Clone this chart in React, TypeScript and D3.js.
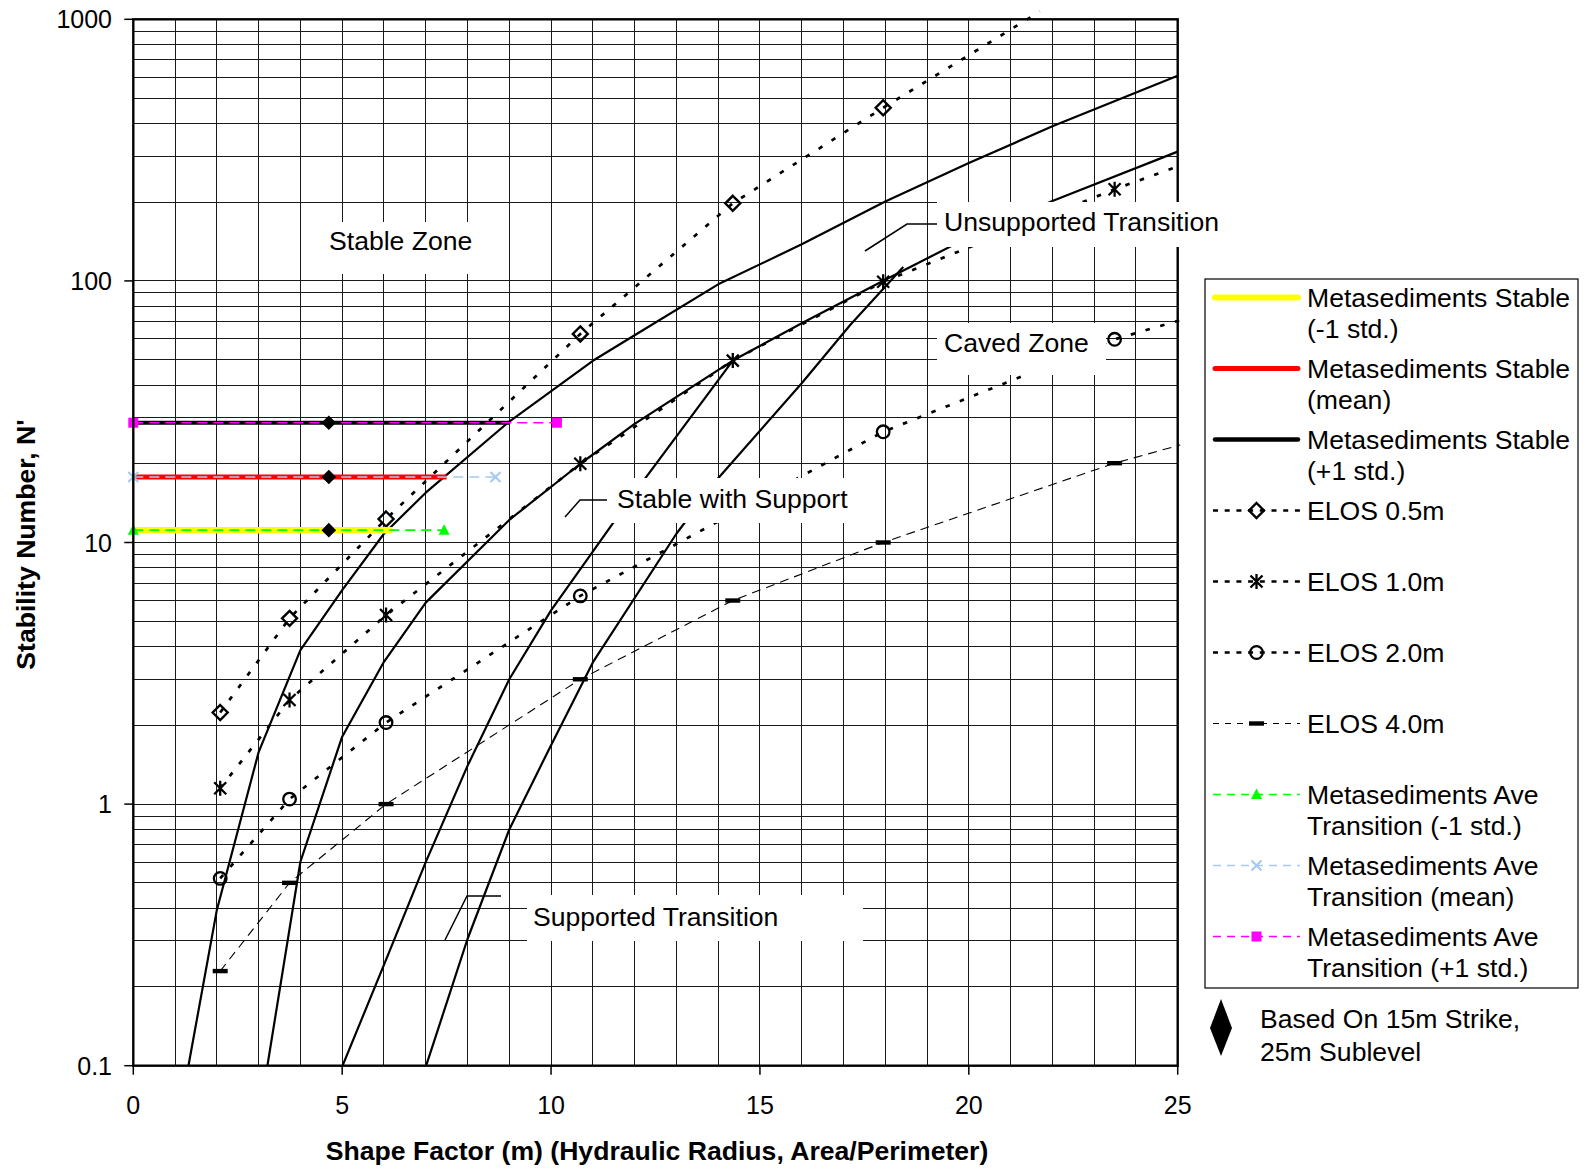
import React from 'react';
import * as d3 from 'd3';

// axis ticks
const xTicks = [0, 5, 10, 15, 20, 25];
const yTicks = [0.1, 1, 10, 100, 1000];
const yTickLabels = ['0.1', '1', '10', '100', '1000'];

// zone boundary curves (solid black lines)
const zoneAx = [1.32, 2, 3, 4, 5, 6, 7, 9, 11, 12, 14, 16, 18, 20, 22, 25];
const zoneAy = [0.1, 0.394, 1.58, 3.88, 6.58, 10.8, 15.5, 29, 49.5, 62, 97, 138, 201, 282, 390, 608];
const zoneBx = [3.21, 4, 5, 6, 7, 9, 10.7, 12, 14.35, 16, 18, 20, 22, 25];
const zoneBy = [0.1, 0.602, 1.81, 3.5, 5.89, 12.2, 20, 28.4, 49.6, 68.9, 101, 147, 202, 312];
const zoneCx = [5.01, 6, 7, 8, 9, 10, 12, 14.35];
const zoneCy = [0.1, 0.243, 0.6, 1.4, 3.0, 5.5, 15.5, 49.6];
const zoneDx = [7.01, 8, 9, 10, 11, 13, 14, 16, 17.16, 18.43];
const zoneDy = [0.1, 0.305, 0.8, 1.68, 3.48, 10.8, 17.6, 40.6, 67.8, 113];

// ELOS design lines
const elosX = [2.08, 3.74, 6.05, 10.7, 14.35, 17.95, 23.49];
const elos05 = [2.24, 5.13, 12.3, 62.7, 198, 459];
const elos10 = [1.15, 2.5, 5.28, 20, 49.6, 99.3, 224];
const elos20 = [0.52, 1.045, 2.05, 6.25, 12.9, 26.5, 59.8];
const elos40 = [0.23, 0.5, 1.0, 3.0, 6.0, 10, 20.1];
// where each ELOS line leaves the frame
const elosEndX = [21.7, 25.0, 25.21, 25.06];
const elosEndY = [1070, 274, 71.9, 23.6];

// metasediments stable / transition (-1 std, mean, +1 std)
const stableN = [11.15, 17.8, 28.7];
const stableEndX = [6.2, 7.5, 9.0];
const transitionEndX = [7.44, 8.67, 10.14];
const basedOnX = 4.68;

const legendLabels = [
  ['Metasediments Stable', '(-1 std.)'],
  ['Metasediments Stable', '(mean)'],
  ['Metasediments Stable', '(+1 std.)'],
  ['ELOS 0.5m'],
  ['ELOS 1.0m'],
  ['ELOS 2.0m'],
  ['ELOS 4.0m'],
  ['Metasediments Ave', 'Transition (-1 std.)'],
  ['Metasediments Ave', 'Transition (mean)'],
  ['Metasediments Ave', 'Transition (+1 std.)'],
];

const FONT = "Arial, 'Liberation Sans', Helvetica, sans-serif";
const stableColors = ['#FFFF00', '#FF0000', '#000000'];
const stableWidths = [6.5, 5, 4];
const transColors = ['#00FF00', '#A6CAF0', '#FF00FF'];

const zip = (xs: number[], ys: number[]) => xs.map((v, i) => [v, ys[i]] as [number, number]);

function Marker({ kind, cx, cy }: { kind: string; cx: number; cy: number }) {
  if (kind === 'diamond')
    return <path d={`M${cx},${cy - 7.5}L${cx + 7.5},${cy}L${cx},${cy + 7.5}L${cx - 7.5},${cy}Z`} fill="none" stroke="#000" strokeWidth={2.4} />;
  if (kind === 'star')
    return <path d={`M${cx - 6},${cy - 6}L${cx + 6},${cy + 6}M${cx + 6},${cy - 6}L${cx - 6},${cy + 6}M${cx},${cy - 7.5}L${cx},${cy + 7.5}`} stroke="#000" strokeWidth={2.3} />;
  if (kind === 'circle')
    return <circle cx={cx} cy={cy} r={6.3} fill="none" stroke="#000" strokeWidth={2.3} />;
  if (kind === 'dash')
    return <rect x={cx - 7.5} y={cy - 2.2} width={15} height={4.4} fill="#000" />;
  if (kind === 'triangle')
    return <path d={`M${cx},${cy - 6}L${cx + 5.5},${cy + 4.5}L${cx - 5.5},${cy + 4.5}Z`} fill="#00FF00" />;
  if (kind === 'cross')
    return <path d={`M${cx - 5},${cy - 5}L${cx + 5},${cy + 5}M${cx + 5},${cy - 5}L${cx - 5},${cy + 5}`} stroke="#A6CAF0" strokeWidth={2.2} />;
  if (kind === 'square')
    return <rect x={cx - 5} y={cy - 5} width={10} height={10} fill="#FF00FF" />;
  return null;
}

export default function App() {
  const x = d3.scaleLinear().domain([0, 25]).range([133.3, 1177.7]);
  const y = d3.scaleLog().domain([0.1, 1000]).range([1065.7, 19.3]);
  const line = d3.line<[number, number]>().x(d => x(d[0])).y(d => y(d[1]));

  const [x0, x1] = x.range();
  const [y0, y1] = y.range();

  const gridX = d3.range(0, 26);
  const gridY = [...[0.1, 1, 10, 100].flatMap(d => d3.range(1, 10).map(k => k * d)), 1000];

  const zones = [zip(zoneAx, zoneAy), zip(zoneBx, zoneBy), zip(zoneCx, zoneCy), zip(zoneDx, zoneDy)];

  const elosSeries = [
    { vals: elos05, marker: 'diamond' },
    { vals: elos10, marker: 'star' },
    { vals: elos20, marker: 'circle' },
    { vals: elos40, marker: 'dash' },
  ];

  const transMarkers = ['triangle', 'cross', 'square'];

  const labels = [
    { text: 'Stable Zone', box: [318, 222, 167, 52], tx: 329, ty: 240 },
    { text: 'Unsupported Transition', box: [937, 202, 295, 45], tx: 944, ty: 221 },
    { text: 'Caved Zone', box: [937, 323, 169, 52], tx: 944, ty: 342 },
    { text: 'Stable with Support', box: [600, 478, 260, 45], tx: 617, ty: 498 },
    { text: 'Supported Transition', box: [527, 895, 336, 46], tx: 533, ty: 916 },
  ];
  const leaders = [
    [[865, 251], [907, 224], [937, 224]],
    [[565, 517], [580, 500], [607, 500]],
    [[445, 940], [467, 896], [501, 896]],
  ];

  const legX = 1205, legY = 279, legW = 373, legH = 709;
  const symX0 = 1213, symX1 = 1300, textX = 1307;
  const rowY = (i: number) => 297.5 + i * 71;

  return (
    <svg width={1596} height={1169} style={{ position: 'absolute', left: 0, top: 0, background: '#fff' }} fontFamily={FONT}>
      <rect x={0} y={0} width={1596} height={1169} fill="#fff" />

      {/* grid */}
      <g stroke="#1a1a1a" strokeWidth={1} shapeRendering="crispEdges">
        {gridX.map(v => <line key={'gx' + v} x1={x(v)} x2={x(v)} y1={y1} y2={y0} />)}
        {gridY.map((v, i) => <line key={'gy' + i} x1={x0} x2={x1} y1={y(v)} y2={y(v)} />)}
      </g>

      {/* zone boundaries */}
      <g fill="none" stroke="#000" strokeWidth={2.2} strokeLinejoin="round">
        {zones.map((z, i) => <path key={'z' + i} d={line(z) || ''} />)}
      </g>

      {/* ELOS lines */}
      {elosSeries.map((s, i) => {
        const pts = zip(elosX.slice(0, s.vals.length), s.vals);
        const full = [...pts, [elosEndX[i], elosEndY[i]] as [number, number]];
        const dotted = i < 3;
        return (
          <g key={'e' + i}>
            <path d={line(full) || ''} fill="none" stroke="#000"
              strokeWidth={dotted ? 2.7 : 1.1} strokeDasharray={dotted ? '4.5,10.8' : '9,6'} />
            {pts.map((p, j) => <Marker key={j} kind={s.marker} cx={x(p[0])} cy={y(p[1])} />)}
          </g>
        );
      })}

      {/* stable lines */}
      {stableN.map((n, i) => (
        <line key={'s' + i} x1={x(0)} x2={x(stableEndX[i])} y1={y(n)} y2={y(n)}
          stroke={stableColors[i]} strokeWidth={stableWidths[i]} />
      ))}
      {/* transition lines */}
      {stableN.map((n, i) => (
        <g key={'t' + i}>
          <line x1={x(0)} x2={x(transitionEndX[i])} y1={y(n)} y2={y(n)}
            stroke={transColors[i]} strokeWidth={1.6} strokeDasharray="10,6" />
          <Marker kind={transMarkers[i]} cx={x(0)} cy={y(n)} />
          <Marker kind={transMarkers[i]} cx={x(transitionEndX[i])} cy={y(n)} />
        </g>
      ))}
      {stableN.map((n, i) => (
        <path key={'d' + i} d={`M${x(basedOnX)},${y(n) - 7.3}l7.3,7.3l-7.3,7.3l-7.3,-7.3Z`} fill="#000" />
      ))}

      {/* frame */}
      <rect x={x0} y={y1} width={x1 - x0} height={y0 - y1} fill="none" stroke="#000" strokeWidth={2.4} />

      {/* zone labels */}
      {labels.map((l, i) => (
        <g key={'l' + i}>
          <rect x={l.box[0]} y={l.box[1]} width={l.box[2]} height={l.box[3]} fill="#fff" />
          <text x={l.tx} y={l.ty + 9.5} fontSize={26.6} fill="#000">{l.text}</text>
        </g>
      ))}
      <g fill="none" stroke="#000" strokeWidth={1.5}>
        {leaders.map((p, i) => <polyline key={'ld' + i} points={p.map(q => q.join(',')).join(' ')} />)}
      </g>

      {/* ticks */}
      <g stroke="#000" strokeWidth={1.5}>
        {xTicks.map(v => <line key={'xt' + v} x1={x(v)} x2={x(v)} y1={y0} y2={y0 + 9} />)}
        {yTicks.map(v => <line key={'yt' + v} x1={x0 - 9} x2={x0} y1={y(v)} y2={y(v)} />)}
      </g>
      <g fontSize={25} fill="#000">
        {xTicks.map(v => <text key={'xl' + v} x={x(v)} y={1114} textAnchor="middle">{v}</text>)}
        {yTicks.map((v, i) => <text key={'yl' + v} x={112} y={y(v) + 9} textAnchor="end">{yTickLabels[i]}</text>)}
      </g>

      {/* axis titles */}
      <text x={657} y={1160} fontSize={26.6} fontWeight="bold" textAnchor="middle">
        Shape Factor (m) (Hydraulic Radius, Area/Perimeter)
      </text>
      <text transform="translate(35,544.6) rotate(-90)" fontSize={26.6} fontWeight="bold" textAnchor="middle">
        Stability Number, N'
      </text>

      {/* legend */}
      <rect x={legX} y={legY} width={legW} height={legH} fill="#fff" stroke="#000" strokeWidth={1.2} />
      {legendLabels.map((lab, i) => {
        const cy = rowY(i);
        const cx = (symX0 + symX1) / 2;
        let sym: React.ReactNode = null;
        if (i < 3) {
          sym = <line x1={symX0 + 2} x2={symX1 - 2} y1={cy} y2={cy} stroke={stableColors[i]}
            strokeWidth={[6, 5, 4.5][i]} strokeLinecap="round" />;
        } else if (i < 7) {
          const k = i - 3;
          const dotted = k < 3;
          sym = (
            <g>
              <line x1={symX0} x2={symX1} y1={cy} y2={cy} stroke="#000"
                strokeWidth={dotted ? 2.5 : 1.1} strokeDasharray={dotted ? '5,6.7' : '6,6'} />
              <Marker kind={elosSeries[k].marker} cx={cx} cy={cy} />
            </g>
          );
        } else {
          const k = i - 7;
          sym = (
            <g>
              <line x1={symX0} x2={symX1} y1={cy} y2={cy} stroke={transColors[k]} strokeWidth={1.3} strokeDasharray="8,6" />
              <Marker kind={transMarkers[k]} cx={cx} cy={cy} />
            </g>
          );
        }
        return (
          <g key={'lg' + i}>
            {sym}
            {lab.map((t, j) => (
              <text key={j} x={textX} y={cy + 9.5 + j * 30.5} fontSize={26.6} fill="#000">{t}</text>
            ))}
          </g>
        );
      })}

      {/* note */}
      <path d="M1221,999L1232,1028L1221,1056L1210,1028Z" fill="#000" />
      <text x={1260} y={1027.5} fontSize={26.6}>Based On 15m Strike,</text>
      <text x={1260} y={1061} fontSize={26.6}>25m Sublevel</text>
    </svg>
  );
}
